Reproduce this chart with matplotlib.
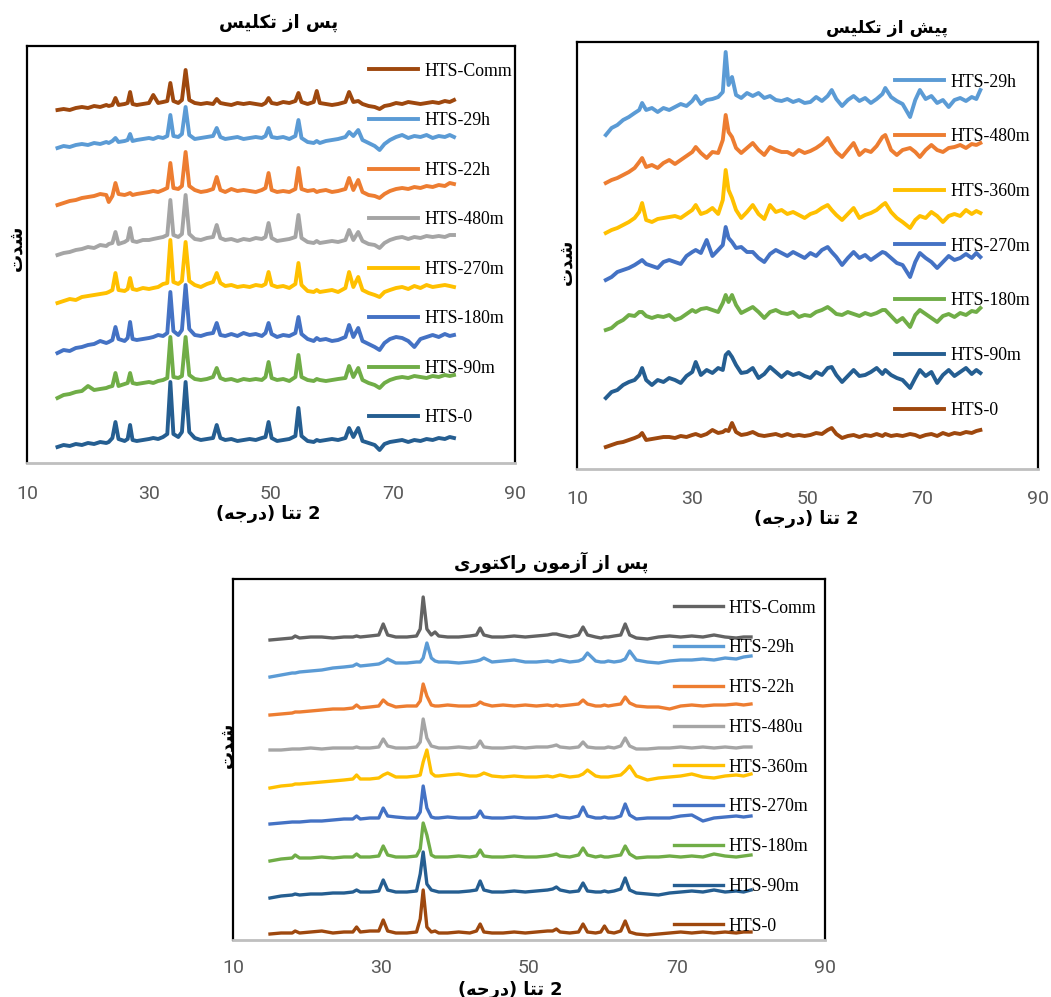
import numpy as np
import matplotlib
matplotlib.use("Agg")
import matplotlib.pyplot as plt

# ---------------- data (intensity in a.u., curves stacked with shifts) ----------------
# panel 1 : after calcination
theta_calc = [15, 16, 17, 18, 19, 20, 21, 22, 23, 23.4,
              24, 24.5, 25, 26, 26.5, 26.9, 27.3, 28, 29, 30,
              30.7, 31.5, 32.3, 33, 33.5, 34, 34.8, 35.4, 36.0, 36.6,
              37.5, 38.5, 39.5, 40.5, 41.1, 41.7, 42.5, 43.5, 44.5, 45.5,
              46.5, 47.5, 48.5, 49.1, 49.6, 50.1, 51, 52, 53, 54,
              54.5, 55, 56, 57, 57.5, 58, 59, 60, 61, 62.2,
              62.8, 63.5, 64.3, 65, 66, 67, 67.8, 68.6, 69.5, 70.5,
              71.5, 72.5, 73.5, 74.5, 75.5, 76.5, 77.5, 78.5, 79.3, 80]
labels_calc = ["HTS-Comm", "HTS-29h", "HTS-22h", "HTS-480m",
               "HTS-270m", "HTS-180m", "HTS-90m", "HTS-0"]
shift_calc = [359, 325, 271, 223, 176, 128, 83, 23]
calc_comm = [-6, -5, -6, -4, -3, -4, -2, -3, -1, -2,
             -1, 6, -1, 0, 1, 12, 0, -1, 0, 1,
             9, 1, 2, 3, 21, 3, 1, 4, 34, 4,
             1, 0, 1, 0, 5, 1, 0, -1, 1, 0,
             1, 0, -1, 1, 6, 1, 0, 2, 1, 3,
             11, 2, 0, 2, 13, 1, 0, -1, 0, 2,
             12, 2, 3, 0, -2, -3, -5, -2, -1, 1,
             0, 2, 1, 0, 1, 2, 1, 3, 2, 4]
calc_29h = [-10, -8, -9, -7, -6, -7, -5, -6, -4, -5,
            -3, 0, -4, -3, -2, 4, -3, -2, -1, 0,
            -1, 1, 0, 2, 23, 2, 1, 4, 31, 3,
            -1, 0, 1, 2, 10, 1, -1, 0, 1, -1,
            0, 1, 0, 2, 10, 1, 0, 1, -1, 2,
            18, 0, -4, -5, -3, -5, -3, -2, -1, 1,
            6, 2, 8, -2, -5, -8, -12, -6, -2, 1,
            3, 0, 2, 1, 3, 0, 2, 1, 3, 1]
calc_22h = [-13, -11, -9, -8, -6, -5, -4, -2, -3, -10,
            -4, 9, -2, -3, -2, -1, -3, -2, -1, 0,
            1, 0, 2, 4, 29, 4, 3, 6, 40, 6,
            2, 0, 1, 3, 15, 2, 0, 3, 1, 2,
            1, 0, 2, 4, 19, 2, 0, 1, 0, 3,
            24, 3, 1, 2, 0, 1, 2, 0, 1, 3,
            14, 2, 12, 0, -3, -4, -6, -2, 1, 3,
            4, 3, 5, 4, 6, 5, 7, 6, 9, 8]
calc_480m = [-15, -13, -12, -10, -9, -7, -8, -5, -6, -4,
             -3, 8, -4, -2, 0, 12, -1, -2, 0, 0,
             1, 2, 3, 5, 40, 5, 3, 6, 45, 6,
             1, 0, 2, 3, 15, 2, 0, 1, -1, 1,
             0, 2, 1, 3, 17, 2, -1, 0, 1, 3,
             25, 2, -2, -3, -1, -3, -2, -1, -2, 0,
             10, 0, 8, -1, -4, -5, -8, -3, 0, 2,
             3, 1, 3, 2, 4, 3, 4, 3, 5, 5]
calc_270m = [-16, -14, -12, -13, -10, -9, -8, -7, -6, -5,
             -3, 14, -3, -4, -2, 9, -2, -3, -1, -2,
             -1, 0, 3, 4, 47, 5, 3, 6, 45, 6,
             2, 0, 3, 5, 14, 4, 1, 2, 0, 1,
             0, 2, 1, 3, 15, 2, 0, 1, -1, 3,
             24, 2, -4, -5, -3, -5, -4, -3, -5, -1,
             15, 0, 10, -3, -6, -8, -10, -5, -3, -1,
             0, -2, 1, -1, 2, 0, 1, 2, 1, 0]
calc_180m = [-18, -15, -16, -13, -12, -10, -9, -6, -8, -7,
             -5, 8, -4, -6, -3, 13, -4, -5, -4, -3,
             -2, 0, -1, 2, 43, 4, 0, 5, 50, 6,
             0, -1, 1, 2, 12, 0, -1, 1, -1, 2,
             0, 1, -1, 2, 12, 1, -2, 0, -1, 2,
             18, 1, -4, -6, -3, -5, -4, -6, -5, -2,
             10, -2, 7, -6, -9, -12, -15, -8, -4, -2,
             -3, -6, -12, -4, -2, 0, -2, 1, -1, 0]
calc_90m = [-18, -15, -14, -12, -11, -6, -10, -9, -8, -7,
            -6, 7, -6, -4, -3, 7, -3, -4, -3, -2,
            -3, -1, 0, 2, 43, 3, 2, 4, 43, 5,
            1, 0, 1, 3, 12, 2, 0, 1, -1, 1,
            0, 1, 0, 3, 18, 2, 0, 1, -1, 3,
            25, 3, 0, -1, 1, 0, -1, 0, 1, 2,
            14, 3, 12, 0, -3, -5, -8, -3, 0, 2,
            3, 2, 4, 3, 2, 4, 3, 5, 4, 5]
calc_0 = [-7, -5, -6, -4, -5, -3, -4, -2, -3, -2,
          2, 18, 1, -1, 1, 15, 0, -1, 0, 1,
          2, 1, 3, 6, 58, 6, 3, 8, 58, 8,
          2, 0, 1, 2, 15, 2, 0, 1, -1, 0,
          1, 0, 2, 3, 18, 2, -1, 0, 1, 4,
          32, 4, -1, -2, 0, -1, 0, 1, 0, 2,
          12, 3, 12, -1, -3, -5, -10, -4, -2, -1,
          0, -2, 0, -1, 1, 0, 2, 1, 3, 2]
series_calc = [calc_comm, calc_29h, calc_22h, calc_480m,
               calc_270m, calc_180m, calc_90m, calc_0]

# panel 2 : before calcination
theta_pre = [15, 16, 17, 18, 19, 20, 20.8, 21.3, 22, 23,
             24, 25, 26, 27, 28, 29, 30, 30.6, 31.5, 32.5,
             33.5, 34.5, 35.3, 35.8, 36.3, 36.9, 37.6, 38.5, 39.5, 40.5,
             41.5, 42.5, 43.5, 44.5, 45.5, 46.5, 47.5, 48.5, 49.5, 50.5,
             51.5, 52.5, 53.5, 54.2, 55, 56, 57, 58, 59, 60,
             61, 62, 63, 63.5, 64.5, 65.5, 66.5, 67.8, 68.7, 69.5,
             70.5, 71.5, 72.5, 73.5, 74.5, 75.5, 76.5, 77.5, 78.5, 79.3, 80]
labels_pre = ["HTS-29h", "HTS-480m", "HTS-360m", "HTS-270m",
              "HTS-180m", "HTS-90m", "HTS-0"]
shift_pre = [369, 317, 254, 212, 154, 94, 33]
pre_29h = [-35, -28, -25, -20, -17, -13, -10, -3, -10, -8,
           -12, -8, -10, -7, -4, -6, -1, 4, -4, 0,
           1, 3, 8, 48, 15, 23, 5, 2, 7, 4,
           7, 2, 4, 0, -1, 1, -2, 0, -3, -2,
           3, -1, 4, 10, 1, -6, 0, 4, -1, 2,
           -3, 1, 6, 12, 3, -1, -4, -17, 0, 10,
           1, 4, -3, 0, -7, 0, 2, -1, 3, 1, 10]
pre_480m = [-31, -28, -26, -23, -20, -16, -10, -6, -15, -13,
            -16, -11, -8, -12, -8, -4, 0, 5, -1, -6,
            0, -1, 12, 37, 20, 15, 4, -1, 4, 9,
            2, -3, 5, 2, 0, 0, -3, 2, -1, 1,
            4, 8, 14, 7, 0, -5, 2, 9, -3, 2,
            0, 6, 15, 17, 2, -3, 2, 4, 0, -5,
            2, 7, 2, 0, 4, 5, 7, 4, 8, 7, 9]
pre_360m = [-18, -15, -13, -10, -7, -3, 3, 12, -5, -7,
            -4, -3, -2, -1, -3, 1, 5, 10, 1, 3,
            7, 1, 15, 45, 25, 17, 5, -3, 3, 10,
            1, -4, 10, 3, 5, 1, 3, 0, -3, 1,
            3, 7, 10, 5, 0, -5, 1, 7, -3, 0,
            2, 5, 10, 12, 3, -3, -7, -13, -5, -1,
            -3, 3, -1, -7, -1, 1, -1, 5, 1, 4, 2]
pre_270m = [-23, -20, -15, -13, -11, -8, -5, -3, -7, -9,
            -11, -5, -3, -5, -7, 1, 5, 7, 4, 17,
            1, 7, 12, 30, 19, 15, 9, 10, 5, 5,
            -1, -5, 3, 7, 4, 1, 5, 2, -1, 4,
            1, 7, 10, 5, 0, -8, -1, 5, -1, 2,
            -3, 1, 5, 4, -1, -6, -8, -20, -5, 4,
            -1, -5, -11, -5, 1, -3, -1, 3, -1, 4, 0]
pre_180m = [-15, -13, -8, -5, 0, -1, 3, 3, -1, -3,
            -1, -2, 0, -5, -3, 1, 5, 3, 6, 7,
            5, 3, 12, 20, 13, 20, 10, 2, 5, 8,
            3, -3, 3, 5, 2, 1, 3, -2, 0, -1,
            3, 5, 8, 5, 1, 0, 3, 1, -1, 2,
            0, 2, 5, 5, -1, -7, -3, -12, 0, 5,
            1, -3, -7, -1, 1, -2, 2, 0, 4, 3, 7]
pre_90m = [-23, -17, -15, -10, -7, -5, 0, 7, -5, -10,
           -5, -7, -3, -5, -8, -1, 3, 13, 0, 5,
           2, 7, 5, 20, 23, 18, 10, 2, 3, 7,
           -3, 1, 8, 3, -2, 3, 0, 2, -1, -3,
           3, 0, 7, 8, 0, -7, -1, 5, -1, 0,
           3, 7, 1, 5, 0, -3, -5, -13, -3, 5,
           -1, 3, -8, 0, 5, -1, 3, 7, 1, 5, 2]
pre_0 = [-11, -9, -7, -6, -4, -2, 0, 3, -4, -3,
         -2, -1, -1, -2, 0, -1, 1, 2, 0, 2,
         6, 3, 4, 6, 5, 13, 4, 1, 2, 4,
         1, 0, 1, 2, 0, 2, 0, 1, 0, 1,
         3, 2, 6, 8, 2, -2, 0, 1, -1, 1,
         0, 2, 0, 2, 0, 1, 0, 2, 1, -1,
         1, 2, 0, 3, 1, 3, 2, 4, 3, 5, 6]
series_pre = [pre_29h, pre_480m, pre_360m, pre_270m, pre_180m, pre_90m, pre_0]

# panel 3 : after reactor test
theta_test = [15, 16.5, 18, 18.4, 19, 20.5, 22, 23.5, 25, 26.2,
              26.7, 27.2, 28.5, 29.7, 30.3, 30.9, 32, 33.5, 34.8, 35.3,
              35.7, 36.2, 36.8, 37.3, 37.8, 39, 40.5, 42, 42.9, 43.4,
              43.9, 45, 46.5, 48, 49.5, 51, 52.5, 53.2, 53.7, 54.2,
              55.5, 56.7, 57.3, 57.9, 59, 59.7, 60.2, 60.7, 61.5, 62.4,
              63.0, 63.6, 64.5, 66, 67.5, 69, 70.5, 72, 73.5, 75,
              76.5, 78, 79, 80]
labels_test = ["HTS-Comm", "HTS-29h", "HTS-22h", "HTS-480u", "HTS-360m",
               "HTS-270m", "HTS-180m", "HTS-90m", "HTS-0"]
shift_test = [303, 278, 234, 192, 163, 122, 83, 48, 7]
test_comm = [-3, -2, -1, 1, -1, 0, 0, -1, 0, 0,
             1, 0, 1, 2, 13, 2, 0, 0, 1, 8,
             40, 8, 2, 5, 1, 0, 0, 1, 2, 9,
             2, 0, 0, 1, 0, 1, 2, 3, 3, 2,
             0, 2, 10, 2, 0, -1, 0, 0, 1, 2,
             13, 2, -1, -2, 0, 1, 0, 1, 0, 2,
             0, -1, 0, 0]
test_29h = [-15, -13, -11, -11, -10, -9, -8, -6, -5, -4,
            -2, -4, -3, -2, 0, 3, -1, -1, 0, 0,
            4, 19, 4, 1, 0, 0, -1, 0, 1, 2,
            4, 0, 1, 2, 0, 0, 1, 0, 1, 2,
            0, 1, 3, 9, 1, 0, 0, 1, 0, 1,
            3, 11, 2, 0, -1, 1, 2, 2, 3, 2,
            4, 3, 5, 6]
test_22h = [-9, -8, -7, -6, -6, -5, -4, -3, -3, -2,
            1, -2, -1, 0, 6, 2, -1, 0, 0, 5,
            22, 10, 1, 0, 0, 1, 0, 0, 1, 4,
            2, 0, 1, 0, 1, 0, 1, 0, 1, 0,
            1, 2, 6, 2, 0, 0, 1, 0, 1, 2,
            9, 3, 0, -1, -1, -3, 0, 1, 0, 1,
            1, 2, 1, 2]
test_480u = [-2, -2, -1, -1, -1, 0, -1, 0, 0, 0,
             1, 0, 0, 1, 9, 2, 0, 0, 1, 6,
             29, 10, 2, 1, 0, 0, 1, 0, 1, 7,
             1, 0, 0, 1, 0, 1, 1, 2, 3, 1,
             0, 1, 6, 1, 0, 0, 0, 1, 0, 2,
             10, 2, -1, -1, 0, 0, 1, 0, 1, 0,
             1, 0, 1, 1]
test_360m = [-11, -9, -8, -7, -7, -6, -5, -4, -3, -2,
             2, -2, -2, -1, 2, 4, 0, 0, 1, 2,
             15, 27, 4, 1, 1, 2, 3, 1, 1, 2,
             4, 1, 0, 1, 0, 0, 1, 0, 1, 2,
             0, 1, 3, 7, 1, 0, 0, 0, 1, 2,
             6, 11, 1, -3, -1, 0, 1, 3, 0, -1,
             1, 2, 1, 3]
test_270m = [-6, -5, -4, -4, -4, -3, -3, -2, -1, -1,
             2, -1, 0, 0, 10, 2, 1, 0, 0, 6,
             32, 10, 1, 0, 0, 1, 0, 0, 1, 7,
             1, 0, 0, 1, 0, 0, 1, 2, 3, 1,
             0, 2, 11, 2, 0, 0, 1, 0, 0, 2,
             14, 3, -1, 0, 0, 0, 2, 3, -3, 0,
             1, 2, 1, 2]
test_180m = [-4, -2, -1, 2, -1, -1, 0, -1, 0, 0,
             3, 0, 0, 1, 11, 2, 0, 0, 1, 8,
             34, 22, 2, 0, 0, 0, 1, 0, 1, 7,
             1, 0, 0, 1, 0, 0, 1, 2, 3, 1,
             0, 2, 9, 2, 0, 1, 0, 0, 1, 2,
             11, 3, -1, 0, 0, 1, 0, 1, 0, 3,
             1, 0, 1, 2]
test_90m = [-6, -4, -3, -2, -3, -2, -2, -1, -1, 0,
            2, 0, 0, 1, 12, 2, 0, 0, 1, 18,
            40, 8, 2, 1, 0, 0, 0, 1, 2, 11,
            2, 0, 0, 1, 0, 1, 2, 3, 5, 2,
            0, 1, 9, 1, 0, 0, 1, 0, 1, 3,
            14, 2, -1, -2, -3, -1, 0, 1, 0, 2,
            0, 1, 0, 2]
test_0 = [-1, 0, 0, 2, 0, 1, 2, 0, 1, 1,
          6, 1, 2, 2, 13, 2, 0, 0, 1, 14,
          43, 6, 1, 2, 0, 0, 1, 0, 2, 9,
          1, 0, 0, 1, 0, 1, 2, 2, 4, 1,
          0, 1, 9, 1, 0, 1, 7, 1, 0, 2,
          12, 1, -1, -2, -1, 0, 1, 0, 1, 0,
          1, 0, 1, 1]
series_test = [test_comm, test_29h, test_22h, test_480u, test_360m,
               test_270m, test_180m, test_90m, test_0]

titles = ["پس از تکلیس", "پیش از تکلیس", "پس از آزمون راکتوری"]
xlabel_fa = "2 تتا (درجه)"
ylabel_fa = "شدت"
xticks = [10, 30, 50, 70, 90]

# excel-like colours
colors_calc = ["#9E480E", "#5B9BD5", "#ED7D31", "#A5A5A5",
               "#FFC000", "#4472C4", "#70AD47", "#255E91"]
colors_pre = ["#5B9BD5", "#ED7D31", "#FFC000", "#4472C4",
              "#70AD47", "#255E91", "#9E480E"]
colors_test = ["#636363", "#5B9BD5", "#ED7D31", "#A5A5A5", "#FFC000",
               "#4472C4", "#70AD47", "#255E91", "#9E480E"]

# ---------------- simple persian shaping (presentation forms, RTL) ----------------
FORMS = {
    'ا': ('\uFE8D', '\uFE8E', '\uFE8D', '\uFE8E'),
    'آ': ('\uFE81', '\uFE82', '\uFE81', '\uFE82'),
    'پ': ('\uFB56', '\uFB57', '\uFB58', '\uFB59'),
    'ت': ('\uFE95', '\uFE96', '\uFE97', '\uFE98'),
    'ج': ('\uFE9D', '\uFE9E', '\uFE9F', '\uFEA0'),
    'د': ('\uFEA9', '\uFEAA', '\uFEA9', '\uFEAA'),
    'ر': ('\uFEAD', '\uFEAE', '\uFEAD', '\uFEAE'),
    'ز': ('\uFEAF', '\uFEB0', '\uFEAF', '\uFEB0'),
    'س': ('\uFEB1', '\uFEB2', '\uFEB3', '\uFEB4'),
    'ش': ('\uFEB5', '\uFEB6', '\uFEB7', '\uFEB8'),
    'ک': ('\uFB8E', '\uFB8F', '\uFB90', '\uFB91'),
    'ل': ('\uFEDD', '\uFEDE', '\uFEDF', '\uFEE0'),
    'م': ('\uFEE1', '\uFEE2', '\uFEE3', '\uFEE4'),
    'ن': ('\uFEE5', '\uFEE6', '\uFEE7', '\uFEE8'),
    'ه': ('\uFEE9', '\uFEEA', '\uFEEB', '\uFEEC'),
    'و': ('\uFEED', '\uFEEE', '\uFEED', '\uFEEE'),
    'ی': ('\uFBFC', '\uFBFD', '\uFBFE', '\uFBFF'),
}
RIGHT_ONLY = set('اآدرزو')


def fa(text):
    out = []
    for i, ch in enumerate(text):
        if ch not in FORMS:
            out.append(ch)
            continue
        prev = text[i - 1] if i else ''
        nxt = text[i + 1] if i + 1 < len(text) else ''
        jp = prev in FORMS and prev not in RIGHT_ONLY
        jn = ch not in RIGHT_ONLY and nxt in FORMS
        iso, fin, ini, med = FORMS[ch]
        out.append(med if (jp and jn) else fin if jp else ini if jn else iso)
    return ''.join(reversed(out)).translate(str.maketrans('()', ')('))


# ---------------- figure ----------------
fig = plt.figure(figsize=(10.51, 9.97), dpi=100)
W, H = 1051, 997


def box(l, t, r, b):
    return [l / W, 1 - b / H, (r - l) / W, (b - t) / H]


FA_FONT = dict(family='DejaVu Sans', weight='bold')

panels = [
    dict(rect=box(27, 46, 515, 463), theta=theta_calc, series=series_calc,
         shift=shift_calc, labels=labels_calc, colors=colors_calc, lw=2.8,
         ymax=417, leg=(0.701, 0.960), spacing=1.83, title=titles[0], tsize=13,
         tpos=(0.516, 1.055), xl=(0.494, -0.122), yl=(-0.021, 0.516), pad=15.5),
    dict(rect=box(577, 42, 1038, 469), theta=theta_pre, series=series_pre,
         shift=shift_pre, labels=labels_pre, colors=colors_pre, lw=2.8,
         ymax=427, leg=(0.690, 0.926), spacing=2.12, title=titles[1], tsize=12.5,
         tpos=(0.672, 1.033), xl=(0.497, -0.116), yl=(-0.022, 0.485), pad=15),
    dict(rect=box(233, 579, 825, 940), theta=theta_test, series=series_test,
         shift=shift_test, labels=labels_test, colors=colors_test, lw=2.4,
         ymax=361, leg=(0.745, 0.943), spacing=1.28, title=titles[2], tsize=13,
         tpos=(0.537, 1.047), xl=(0.468, -0.138), yl=(-0.010, 0.54), pad=14),
]

for p in panels:
    ax = fig.add_axes(p['rect'])
    for rel, s, lab, col in zip(p['series'], p['shift'], p['labels'], p['colors']):
        ax.plot(p['theta'], np.array(rel) + s, color=col, lw=p['lw'], label=lab)
    ax.set_xlim(10, 90)
    ax.set_ylim(0, p['ymax'])
    ax.set_xticks(xticks)
    ax.set_yticks([])
    ax.tick_params(axis='x', length=0, pad=p['pad'], labelsize=14,
                   labelcolor='#595959')
    for t in ax.get_xticklabels():
        t.set_fontfamily('Roboto')
    for side in ['top', 'left', 'right']:
        ax.spines[side].set_color('black')
        ax.spines[side].set_linewidth(1.6)
    ax.spines['bottom'].set_color('#BFBFBF')
    ax.spines['bottom'].set_linewidth(2)

    ax.set_title(fa(p['title']), x=p['tpos'][0], y=p['tpos'][1], pad=0,
                 va='center', fontsize=p['tsize'], **FA_FONT)
    ax.set_xlabel(fa(xlabel_fa), va='center', fontsize=12.8, **FA_FONT)
    ax.xaxis.set_label_coords(*p['xl'])
    ax.set_ylabel(fa(ylabel_fa), va='center', ha='center', fontsize=13, **FA_FONT)
    ax.yaxis.set_label_coords(*p['yl'])

    ax.legend(loc='upper left', bbox_to_anchor=p['leg'], frameon=False,
              borderpad=0, borderaxespad=0, handlelength=2.75,
              handletextpad=0.34, labelspacing=p['spacing'],
              prop=dict(family='Liberation Serif', size=12.8))

fig.savefig('out.png', dpi=100)
